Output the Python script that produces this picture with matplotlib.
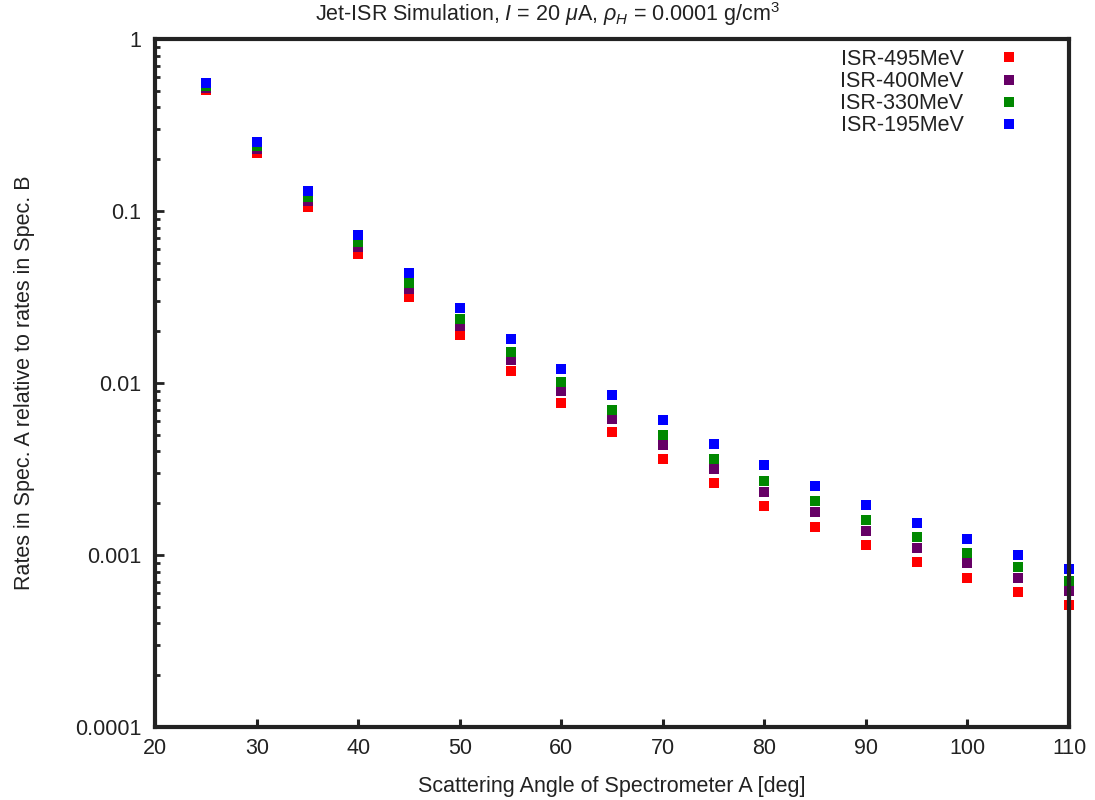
import matplotlib
matplotlib.use("Agg")
import matplotlib.pyplot as plt
from matplotlib.ticker import LogLocator, FixedLocator, FuncFormatter

# font setup (gnuplot-like helvetica look)
plt.rcParams['font.family'] = ['Liberation Sans', 'DejaVu Sans']
plt.rcParams['mathtext.fontset'] = 'custom'
plt.rcParams['mathtext.rm'] = 'Liberation Sans'
plt.rcParams['mathtext.it'] = 'Liberation Sans:italic'
plt.rcParams['mathtext.bf'] = 'Liberation Sans:bold'

# scattering angles [deg]
angles = [25, 30, 35, 40, 45, 50, 55, 60, 65, 70, 75, 80, 85, 90, 95, 100, 105, 110]

# rate ratios Spec. A / Spec. B
isr_495 = [0.502, 0.217, 0.105, 0.0561, 0.0316, 0.0190, 0.01174, 0.00765, 0.00519,
           0.00362, 0.00263, 0.00193, 0.00146, 0.001147, 0.000914, 0.000738, 0.000612, 0.000514]
isr_400 = [0.519, 0.228, 0.114, 0.0616, 0.0352, 0.02143, 0.01360, 0.00899, 0.00618,
           0.00436, 0.00317, 0.00233, 0.00178, 0.00138, 0.001102, 0.000896, 0.000738, 0.000616]
isr_330 = [0.530, 0.2375, 0.120, 0.0659, 0.0381, 0.02352, 0.01514, 0.01013, 0.00697,
           0.00499, 0.00362, 0.00270, 0.00206, 0.00160, 0.001276, 0.001031, 0.000855, 0.000709]
isr_195 = [0.552, 0.251, 0.130, 0.0723, 0.0435, 0.02724, 0.0180, 0.01206, 0.00852,
           0.00610, 0.00442, 0.00334, 0.00252, 0.00196, 0.00154, 0.001242, 0.001003, 0.000832]

series = [
    ("ISR-495MeV", isr_495, "#ff0000"),
    ("ISR-400MeV", isr_400, "#660066"),
    ("ISR-330MeV", isr_330, "#008800"),
    ("ISR-195MeV", isr_195, "#0000ff"),
]

xticks = [20, 30, 40, 50, 60, 70, 80, 90, 100, 110]
yticks = [0.0001, 0.001, 0.01, 0.1, 1]

fs = 15.5
txt_color = "#222222"

fig = plt.figure(figsize=(10.95, 8.0), dpi=100)
ax = fig.add_axes([155.3 / 1095, 1 - 727 / 800, (1069 - 155.3) / 1095, (727 - 39) / 800])

for name, vals, col in series:
    ax.plot(angles, vals, ls="none", marker="s", ms=7.9, mew=0, color=col,
            label=name, clip_on=False)

ax.set_yscale("log")
ax.set_xlim(20, 110)
ax.set_ylim(0.0001, 1)

ax.xaxis.set_major_locator(FixedLocator(xticks))
ax.yaxis.set_major_locator(FixedLocator(yticks))
ax.yaxis.set_minor_locator(LogLocator(base=10, subs=range(2, 10)))
ax.yaxis.set_major_formatter(FuncFormatter(lambda v, p: "%g" % v))
ax.xaxis.set_major_formatter(FuncFormatter(lambda v, p: "%g" % v))

ax.tick_params(axis="both", which="both", direction="in", colors=txt_color,
               labelsize=fs, top=False, right=False)
ax.tick_params(axis="y", which="major", length=6.5, width=2.0, pad=10)
ax.tick_params(axis="y", which="minor", length=3.8, width=2.0)
ax.tick_params(axis="x", which="major", length=6.0, width=2.2, pad=8)

for sp in ax.spines.values():
    sp.set_linewidth(3.0)
    sp.set_color(txt_color)

ax.set_xlabel("Scattering Angle of Spectrometer A [deg]", fontsize=fs, color=txt_color, labelpad=12)
ax.set_ylabel("Rates in Spec. A relative to rates in Spec. B", fontsize=fs, color=txt_color, labelpad=29)

fig.text(0.5, 1 - 14 / 800,
         r"Jet-ISR Simulation, $I$ = 20 $\mu$A, $\rho_H$ = 0.0001 g$/$cm$^3$",
         ha="center", va="center", fontsize=fs, color=txt_color)

leg = ax.legend(loc="upper right", bbox_to_anchor=((1018 - 155.3) / 913.7, (727 - 49) / 688),
                frameon=False, markerfirst=False, fontsize=fs, handlelength=0.8,
                handletextpad=1.73, labelspacing=0.05, borderpad=0, borderaxespad=0)
for t in leg.get_texts():
    t.set_color(txt_color)

fig.savefig("out.png", dpi=100)
